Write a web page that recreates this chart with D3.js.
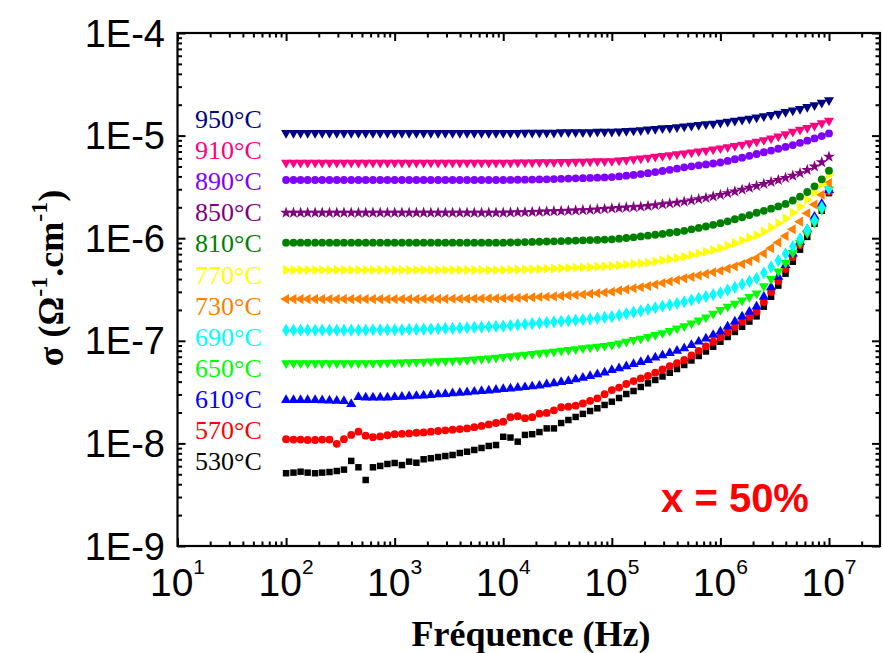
<!DOCTYPE html>
<html>
<head>
<meta charset="utf-8">
<script src="https://cdn.jsdelivr.net/npm/d3@7"></script>
<style>
  body { margin: 0; background: #fff; }
  text { fill: #000; }
</style>
</head>
<body>
<div id="chart"></div>
<script>
// Frequencies (Hz), 15 points per decade
const freq = [
  100, 117, 136, 158, 185, 215, 251, 293, 341, 398, 464, 541, 631, 736, 858,
  1000, 1166, 1359, 1585, 1848, 2154, 2512, 2929, 3415, 3981, 4642, 5412, 6310, 7356, 8577,
  1e4, 1.166e4, 1.359e4, 1.585e4, 1.848e4, 2.154e4, 2.512e4, 2.929e4, 3.415e4, 3.981e4, 4.642e4, 5.412e4, 6.310e4, 7.356e4, 8.577e4,
  1e5, 1.166e5, 1.359e5, 1.585e5, 1.848e5, 2.154e5, 2.512e5, 2.929e5, 3.415e5, 3.981e5, 4.642e5, 5.412e5, 6.310e5, 7.356e5, 8.577e5,
  1e6, 1.166e6, 1.359e6, 1.585e6, 1.848e6, 2.154e6, 2.512e6, 2.929e6, 3.415e6, 3.981e6, 4.642e6, 5.412e6, 6.310e6, 7.356e6, 8.577e6,
  1e7
];

// Conductivity sigma (ohm^-1.cm^-1), one array per temperature
const s530 = [
  5.12e-9, 5.19e-9, 5.30e-9, 5.19e-9, 5.12e-9, 5.19e-9, 5.26e-9, 5.38e-9, 5.55e-9, 6.75e-9, 5.85e-9, 4.40e-9, 5.85e-9, 6.03e-9, 6.30e-9, 6.44e-9,
  6.15e-9, 6.64e-9, 6.48e-9, 7.00e-9, 7.16e-9, 7.36e-9, 7.53e-9, 7.71e-9, 8.06e-9, 8.30e-9, 8.63e-9, 9.02e-9, 9.44e-9, 9.64e-9, 11.6e-9,
  11.4e-9, 10.4e-9, 12.1e-9, 12.3e-9, 12.9e-9, 14.0e-9, 14.0e-9, 15.8e-9, 16.9e-9, 18.1e-9, 19.4e-9, 20.7e-9, 22.0e-9, 23.7e-9, 25.5e-9,
  27.7e-9, 30.3e-9, 32.4e-9, 35.5e-9, 38.5e-9, 41.5e-9, 44.9e-9, 48.8e-9, 53.1e-9, 58.1e-9, 64.3e-9, 71.1e-9, 78.7e-9, 87.5e-9, 98.0e-9,
  109e-9, 122e-9, 137e-9, 154e-9, 173e-9, 215e-9, 269e-9, 345e-9, 451e-9, 590e-9, 773e-9, 1030e-9, 1380e-9, 1850e-9, 2750e-9
];
const s570 = [
  1.10e-8, 1.09e-8, 1.09e-8, 1.08e-8, 1.08e-8, 1.09e-8, 1.09e-8, 0.99e-8, 1.10e-8, 1.21e-8, 1.30e-8, 1.19e-8, 1.15e-8, 1.17e-8, 1.20e-8, 1.23e-8,
  1.24e-8, 1.25e-8, 1.27e-8, 1.28e-8, 1.30e-8, 1.32e-8, 1.34e-8, 1.36e-8, 1.38e-8, 1.40e-8, 1.44e-8, 1.48e-8, 1.53e-8, 1.58e-8, 1.63e-8,
  1.80e-8, 1.84e-8, 1.76e-8, 1.80e-8, 1.95e-8, 1.98e-8, 2.10e-8, 2.25e-8, 2.28e-8, 2.33e-8, 2.45e-8, 2.60e-8, 2.75e-8, 3.02e-8, 3.31e-8,
  3.50e-8, 3.79e-8, 4.05e-8, 4.30e-8, 4.54e-8, 4.89e-8, 5.26e-8, 5.66e-8, 6.06e-8, 6.50e-8, 7.20e-8, 7.98e-8, 8.84e-8, 9.79e-8, 10.85e-8,
  12.1e-8, 13.6e-8, 15.3e-8, 17.1e-8, 19.2e-8, 23.9e-8, 29.9e-8, 38.3e-8, 50.1e-8, 65.6e-8, 85.9e-8, 115e-8, 154e-8, 206e-8, 284e-8
];
const s610 = [
  2.65e-8, 2.65e-8, 2.64e-8, 2.64e-8, 2.64e-8, 2.63e-8, 2.62e-8, 2.60e-8, 2.58e-8, 2.42e-8, 2.83e-8, 2.80e-8, 2.79e-8, 2.79e-8, 2.80e-8, 2.82e-8,
  2.84e-8, 2.87e-8, 2.90e-8, 2.93e-8, 2.96e-8, 3.00e-8, 3.03e-8, 3.07e-8, 3.11e-8, 3.15e-8, 3.19e-8, 3.23e-8, 3.28e-8, 3.33e-8, 3.38e-8,
  3.43e-8, 3.48e-8, 3.53e-8, 3.59e-8, 3.65e-8, 3.76e-8, 3.86e-8, 3.95e-8, 4.05e-8, 4.20e-8, 4.36e-8, 4.52e-8, 4.70e-8, 4.90e-8, 5.19e-8,
  5.40e-8, 5.65e-8, 5.92e-8, 6.20e-8, 6.50e-8, 6.85e-8, 7.20e-8, 7.60e-8, 8.00e-8, 8.45e-8, 9.10e-8, 9.80e-8, 10.5e-8, 11.4e-8, 12.3e-8,
  13.75e-8, 15.4e-8, 17.2e-8, 19.2e-8, 21.5e-8, 26.8e-8, 33.2e-8, 42.1e-8, 54.6e-8, 70.8e-8, 91.9e-8, 122e-8, 162e-8, 216e-8, 295e-8
];
const s650 = [
  6.04e-8, 6.04e-8, 6.04e-8, 6.04e-8, 6.04e-8, 6.04e-8, 6.04e-8, 6.04e-8, 6.04e-8, 6.04e-8, 6.04e-8, 6.05e-8, 6.07e-8, 6.09e-8, 6.11e-8, 6.13e-8,
  6.16e-8, 6.19e-8, 6.22e-8, 6.25e-8, 6.28e-8, 6.32e-8, 6.36e-8, 6.40e-8, 6.45e-8, 6.50e-8, 6.58e-8, 6.66e-8, 6.75e-8, 6.85e-8, 6.95e-8,
  7.07e-8, 7.19e-8, 7.31e-8, 7.44e-8, 7.57e-8, 7.71e-8, 7.85e-8, 8.00e-8, 8.15e-8, 8.30e-8, 8.46e-8, 8.62e-8, 8.78e-8, 8.94e-8, 9.10e-8,
  9.45e-8, 9.80e-8, 10.2e-8, 10.5e-8, 10.9e-8, 11.4e-8, 11.9e-8, 12.5e-8, 13.2e-8, 13.9e-8, 14.8e-8, 15.8e-8, 16.9e-8, 18.4e-8, 20.0e-8,
  21.5e-8, 23.0e-8, 24.8e-8, 26.8e-8, 29.0e-8, 34.0e-8, 40.0e-8, 47.5e-8, 57.5e-8, 72.0e-8, 90.0e-8, 112e-8, 142e-8, 190e-8, 300e-8
];
const s690 = [
  1.27e-7, 1.27e-7, 1.27e-7, 1.27e-7, 1.27e-7, 1.27e-7, 1.27e-7, 1.27e-7, 1.27e-7, 1.27e-7, 1.27e-7, 1.27e-7, 1.28e-7, 1.28e-7, 1.28e-7, 1.28e-7,
  1.28e-7, 1.29e-7, 1.29e-7, 1.30e-7, 1.30e-7, 1.31e-7, 1.32e-7, 1.32e-7, 1.33e-7, 1.34e-7, 1.35e-7, 1.36e-7, 1.37e-7, 1.38e-7, 1.39e-7,
  1.41e-7, 1.43e-7, 1.45e-7, 1.47e-7, 1.49e-7, 1.51e-7, 1.53e-7, 1.55e-7, 1.57e-7, 1.59e-7, 1.61e-7, 1.63e-7, 1.66e-7, 1.69e-7, 1.72e-7,
  1.78e-7, 1.84e-7, 1.90e-7, 1.96e-7, 2.03e-7, 2.10e-7, 2.17e-7, 2.24e-7, 2.32e-7, 2.40e-7, 2.50e-7, 2.60e-7, 2.70e-7, 2.82e-7, 2.94e-7,
  3.12e-7, 3.32e-7, 3.55e-7, 3.80e-7, 4.06e-7, 4.60e-7, 5.25e-7, 6.05e-7, 7.05e-7, 8.30e-7, 9.90e-7, 12.0e-7, 15.0e-7, 20.0e-7, 30.8e-7
];
const s730 = [
  2.55e-7, 2.55e-7, 2.55e-7, 2.55e-7, 2.55e-7, 2.55e-7, 2.55e-7, 2.55e-7, 2.55e-7, 2.55e-7, 2.55e-7, 2.55e-7, 2.55e-7, 2.55e-7, 2.55e-7, 2.55e-7,
  2.55e-7, 2.55e-7, 2.55e-7, 2.56e-7, 2.56e-7, 2.56e-7, 2.56e-7, 2.57e-7, 2.57e-7, 2.57e-7, 2.58e-7, 2.58e-7, 2.59e-7, 2.59e-7, 2.60e-7,
  2.61e-7, 2.62e-7, 2.63e-7, 2.65e-7, 2.67e-7, 2.69e-7, 2.71e-7, 2.74e-7, 2.77e-7, 2.80e-7, 2.83e-7, 2.87e-7, 2.91e-7, 2.96e-7, 3.01e-7,
  3.09e-7, 3.17e-7, 3.25e-7, 3.33e-7, 3.42e-7, 3.54e-7, 3.66e-7, 3.78e-7, 3.92e-7, 4.06e-7, 4.20e-7, 4.34e-7, 4.49e-7, 4.65e-7, 4.82e-7,
  5.05e-7, 5.30e-7, 5.60e-7, 5.95e-7, 6.40e-7, 7.10e-7, 8.00e-7, 9.10e-7, 10.5e-7, 12.2e-7, 14.5e-7, 17.5e-7, 21.3e-7, 26.5e-7, 34.5e-7
];
const s770 = [
  4.90e-7, 4.90e-7, 4.90e-7, 4.90e-7, 4.90e-7, 4.90e-7, 4.90e-7, 4.90e-7, 4.90e-7, 4.90e-7, 4.90e-7, 4.90e-7, 4.90e-7, 4.90e-7, 4.90e-7, 4.90e-7,
  4.90e-7, 4.90e-7, 4.90e-7, 4.90e-7, 4.90e-7, 4.90e-7, 4.90e-7, 4.90e-7, 4.90e-7, 4.90e-7, 4.90e-7, 4.90e-7, 4.90e-7, 4.90e-7, 4.90e-7,
  4.92e-7, 4.94e-7, 4.96e-7, 4.98e-7, 5.00e-7, 5.03e-7, 5.06e-7, 5.09e-7, 5.12e-7, 5.15e-7, 5.18e-7, 5.22e-7, 5.26e-7, 5.31e-7, 5.36e-7,
  5.43e-7, 5.51e-7, 5.59e-7, 5.68e-7, 5.77e-7, 5.92e-7, 6.08e-7, 6.24e-7, 6.42e-7, 6.60e-7, 6.85e-7, 7.10e-7, 7.38e-7, 7.67e-7, 7.98e-7,
  8.45e-7, 8.95e-7, 9.50e-7, 10.1e-7, 10.7e-7, 11.6e-7, 12.7e-7, 14.0e-7, 15.6e-7, 17.7e-7, 20.3e-7, 23.7e-7, 28.0e-7, 33.8e-7, 41.3e-7
];
const s810 = [
  9.04e-7, 9.04e-7, 9.04e-7, 9.04e-7, 9.04e-7, 9.04e-7, 9.04e-7, 9.04e-7, 9.04e-7, 9.04e-7, 9.04e-7, 9.04e-7, 9.04e-7, 9.04e-7, 9.04e-7, 9.04e-7,
  9.04e-7, 9.04e-7, 9.04e-7, 9.04e-7, 9.04e-7, 9.04e-7, 9.04e-7, 9.04e-7, 9.04e-7, 9.04e-7, 9.04e-7, 9.04e-7, 9.04e-7, 9.04e-7, 9.04e-7,
  9.08e-7, 9.12e-7, 9.16e-7, 9.20e-7, 9.24e-7, 9.28e-7, 9.33e-7, 9.38e-7, 9.43e-7, 9.48e-7, 9.53e-7, 9.58e-7, 9.63e-7, 9.69e-7, 9.75e-7,
  9.90e-7, 10.05e-7, 10.2e-7, 10.4e-7, 10.6e-7, 10.8e-7, 11.0e-7, 11.3e-7, 11.5e-7, 11.8e-7, 12.2e-7, 12.6e-7, 13.0e-7, 13.5e-7, 14.0e-7,
  14.6e-7, 15.3e-7, 16.0e-7, 16.8e-7, 17.7e-7, 18.5e-7, 19.4e-7, 20.4e-7, 21.6e-7, 23.3e-7, 25.4e-7, 28.2e-7, 32.0e-7, 37.5e-7, 45.5e-7
];
const s850 = [
  1.77e-6, 1.77e-6, 1.77e-6, 1.77e-6, 1.77e-6, 1.77e-6, 1.77e-6, 1.77e-6, 1.77e-6, 1.77e-6, 1.77e-6, 1.77e-6, 1.77e-6, 1.77e-6, 1.77e-6, 1.77e-6,
  1.77e-6, 1.77e-6, 1.77e-6, 1.77e-6, 1.77e-6, 1.77e-6, 1.77e-6, 1.77e-6, 1.77e-6, 1.77e-6, 1.77e-6, 1.77e-6, 1.77e-6, 1.77e-6, 1.77e-6,
  1.78e-6, 1.79e-6, 1.79e-6, 1.80e-6, 1.81e-6, 1.82e-6, 1.83e-6, 1.84e-6, 1.85e-6, 1.86e-6, 1.88e-6, 1.89e-6, 1.91e-6, 1.93e-6, 1.95e-6,
  1.97e-6, 1.99e-6, 2.01e-6, 2.03e-6, 2.06e-6, 2.10e-6, 2.14e-6, 2.18e-6, 2.22e-6, 2.27e-6, 2.34e-6, 2.40e-6, 2.47e-6, 2.55e-6, 2.64e-6,
  2.75e-6, 2.85e-6, 2.97e-6, 3.10e-6, 3.23e-6, 3.38e-6, 3.53e-6, 3.69e-6, 3.87e-6, 4.06e-6, 4.30e-6, 4.62e-6, 5.00e-6, 5.50e-6, 6.22e-6
];
const s890 = [
  3.69e-6, 3.69e-6, 3.69e-6, 3.69e-6, 3.69e-6, 3.69e-6, 3.69e-6, 3.69e-6, 3.69e-6, 3.69e-6, 3.69e-6, 3.69e-6, 3.69e-6, 3.69e-6, 3.69e-6, 3.69e-6,
  3.69e-6, 3.69e-6, 3.69e-6, 3.69e-6, 3.69e-6, 3.69e-6, 3.69e-6, 3.69e-6, 3.69e-6, 3.69e-6, 3.69e-6, 3.69e-6, 3.69e-6, 3.69e-6, 3.69e-6,
  3.70e-6, 3.71e-6, 3.72e-6, 3.73e-6, 3.74e-6, 3.75e-6, 3.77e-6, 3.79e-6, 3.81e-6, 3.83e-6, 3.85e-6, 3.87e-6, 3.89e-6, 3.91e-6, 3.94e-6,
  4.00e-6, 4.07e-6, 4.14e-6, 4.22e-6, 4.30e-6, 4.41e-6, 4.52e-6, 4.64e-6, 4.77e-6, 4.91e-6, 5.02e-6, 5.13e-6, 5.24e-6, 5.35e-6, 5.47e-6,
  5.67e-6, 5.88e-6, 6.10e-6, 6.35e-6, 6.62e-6, 6.88e-6, 7.15e-6, 7.45e-6, 7.76e-6, 8.09e-6, 8.50e-6, 8.92e-6, 9.38e-6, 9.90e-6, 10.5e-6
];
const s910 = [
  5.45e-6, 5.45e-6, 5.45e-6, 5.45e-6, 5.45e-6, 5.45e-6, 5.45e-6, 5.45e-6, 5.45e-6, 5.45e-6, 5.45e-6, 5.45e-6, 5.45e-6, 5.45e-6, 5.45e-6, 5.45e-6,
  5.45e-6, 5.45e-6, 5.45e-6, 5.45e-6, 5.45e-6, 5.45e-6, 5.45e-6, 5.45e-6, 5.45e-6, 5.45e-6, 5.45e-6, 5.45e-6, 5.45e-6, 5.45e-6, 5.45e-6,
  5.46e-6, 5.47e-6, 5.48e-6, 5.49e-6, 5.50e-6, 5.51e-6, 5.52e-6, 5.53e-6, 5.54e-6, 5.56e-6, 5.58e-6, 5.60e-6, 5.62e-6, 5.63e-6, 5.65e-6,
  5.72e-6, 5.80e-6, 5.88e-6, 5.98e-6, 6.10e-6, 6.22e-6, 6.34e-6, 6.46e-6, 6.58e-6, 6.71e-6, 6.86e-6, 7.00e-6, 7.15e-6, 7.33e-6, 7.52e-6,
  7.72e-6, 7.94e-6, 8.18e-6, 8.44e-6, 8.73e-6, 9.05e-6, 9.40e-6, 9.80e-6, 10.3e-6, 10.9e-6, 11.4e-6, 11.9e-6, 12.5e-6, 13.2e-6, 14.0e-6
];
const s950 = [
  1.06e-5, 1.06e-5, 1.06e-5, 1.06e-5, 1.06e-5, 1.06e-5, 1.06e-5, 1.06e-5, 1.06e-5, 1.06e-5, 1.06e-5, 1.06e-5, 1.06e-5, 1.06e-5, 1.06e-5, 1.06e-5,
  1.06e-5, 1.06e-5, 1.06e-5, 1.06e-5, 1.06e-5, 1.06e-5, 1.06e-5, 1.06e-5, 1.06e-5, 1.06e-5, 1.06e-5, 1.06e-5, 1.06e-5, 1.06e-5, 1.06e-5,
  1.06e-5, 1.06e-5, 1.07e-5, 1.07e-5, 1.07e-5, 1.07e-5, 1.07e-5, 1.08e-5, 1.08e-5, 1.08e-5, 1.08e-5, 1.08e-5, 1.09e-5, 1.09e-5, 1.09e-5,
  1.10e-5, 1.11e-5, 1.12e-5, 1.13e-5, 1.15e-5, 1.16e-5, 1.18e-5, 1.19e-5, 1.21e-5, 1.23e-5, 1.25e-5, 1.27e-5, 1.29e-5, 1.31e-5, 1.34e-5,
  1.37e-5, 1.40e-5, 1.43e-5, 1.46e-5, 1.50e-5, 1.55e-5, 1.59e-5, 1.64e-5, 1.70e-5, 1.76e-5, 1.82e-5, 1.90e-5, 1.98e-5, 2.09e-5, 2.22e-5
];

const temps = ['530°C', '570°C', '610°C', '650°C', '690°C', '730°C', '770°C', '810°C', '850°C', '890°C', '910°C', '950°C'];
const sigmaByTemp = [s530, s570, s610, s650, s690, s730, s770, s810, s850, s890, s910, s950];

const xTickValues = [1e1, 1e2, 1e3, 1e4, 1e5, 1e6, 1e7];
const xTickExponents = ['1', '2', '3', '4', '5', '6', '7'];
const yTickValues = [1e-9, 1e-8, 1e-7, 1e-6, 1e-5, 1e-4];
const yTickLabels = ['1E-9', '1E-8', '1E-7', '1E-6', '1E-5', '1E-4'];

// Styles
const colors = ['#000000', '#ff0000', '#0000ff', '#00ff00', '#00ffff', '#ff8000',
                '#ffff00', '#008000', '#800080', '#8000ff', '#ff0080', '#000080'];
const shapes = ['square', 'circle', 'up', 'down', 'diamond', 'left',
                'right', 'circle', 'star', 'circle', 'down', 'down'];

const width = 883, height = 653;
const plot = { left: 177.5, right: 880, top: 33, bottom: 546 };

const svg = d3.select('#chart')
    .append('svg')
    .attr('width', width)
    .attr('height', height);

const x = d3.scaleLog().domain([10, 2.95e7]).range([plot.left, plot.right]);
const y = d3.scaleLog().domain([1e-9, 1e-4]).range([plot.bottom, plot.top]);

// Ticks on all four sides, pointing inwards
const xMajor = xTickValues;
const xMinor = x.ticks().filter(v => !xMajor.some(m => Math.abs(m - v) / m < 1e-9));
const yMajor = yTickValues;
const yMinor = y.ticks().filter(v => !yMajor.some(m => Math.abs(m - v) / m < 1e-9));

function styleAxis(sel) {
    sel.select('.domain').remove();
    sel.selectAll('.tick line').attr('stroke', '#000').attr('stroke-width', 2);
    sel.selectAll('.tick text').remove();
}

const axes = svg.append('g');
[[xMajor, 8], [xMinor, 4.5]].forEach(([vals, len]) => {
    axes.append('g').attr('transform', `translate(0,${plot.bottom})`)
        .call(d3.axisBottom(x).tickValues(vals).tickSize(-len)).call(styleAxis);
    axes.append('g').attr('transform', `translate(0,${plot.top})`)
        .call(d3.axisTop(x).tickValues(vals).tickSize(-len)).call(styleAxis);
});
[[yMajor, 8], [yMinor, 4.5]].forEach(([vals, len]) => {
    axes.append('g').attr('transform', `translate(${plot.left},0)`)
        .call(d3.axisLeft(y).tickValues(vals).tickSize(-len)).call(styleAxis);
    axes.append('g').attr('transform', `translate(${plot.right},0)`)
        .call(d3.axisRight(y).tickValues(vals).tickSize(-len)).call(styleAxis);
});

// Frame
svg.append('rect')
    .attr('x', plot.left)
    .attr('y', plot.top)
    .attr('width', plot.right - plot.left)
    .attr('height', plot.bottom - plot.top)
    .attr('fill', 'none')
    .attr('stroke', '#000')
    .attr('stroke-width', 2.2);

// Tick labels
svg.append('g').selectAll('text')
    .data(yTickValues)
    .join('text')
    .attr('x', 165)
    .attr('y', d => y(d))
    .attr('dy', '0.36em')
    .attr('text-anchor', 'end')
    .attr('font-family', 'Liberation Sans, Arial, sans-serif')
    .attr('font-size', '38px')
    .text((d, i) => yTickLabels[i]);

const xLab = svg.append('g').selectAll('text')
    .data(xTickValues)
    .join('text')
    .attr('x', d => x(d))
    .attr('y', 596)
    .attr('text-anchor', 'middle')
    .attr('font-family', 'Liberation Sans, Arial, sans-serif')
    .attr('font-size', '39px');
xLab.append('tspan').text('10');
xLab.append('tspan')
    .attr('dy', -22)
    .attr('font-size', '21px')
    .text((d, i) => xTickExponents[i]);

// Axis titles
svg.append('text')
    .attr('x', 531)
    .attr('y', 646)
    .attr('text-anchor', 'middle')
    .attr('font-family', 'Liberation Serif, Times New Roman, serif')
    .attr('font-weight', 'bold')
    .attr('font-size', '36px')
    .text('Fréquence (Hz)');

const yTitle = svg.append('text')
    .attr('transform', 'translate(63,278) rotate(-90)')
    .attr('text-anchor', 'middle')
    .attr('font-family', 'Liberation Serif, Times New Roman, serif')
    .attr('font-weight', 'bold')
    .attr('font-size', '36px');
yTitle.append('tspan').text('σ (Ω');
yTitle.append('tspan').attr('dy', -16).attr('font-size', '24px').text('-1');
yTitle.append('tspan').attr('dy', 16).text('.cm');
yTitle.append('tspan').attr('dy', -16).attr('font-size', '24px').text('-1');
yTitle.append('tspan').attr('dy', 16).text(')');

// Symbols
const symbolType = {
    square: d3.symbolSquare, circle: d3.symbolCircle, star: d3.symbolStar,
    diamond: d3.symbolDiamond, up: d3.symbolTriangle, down: d3.symbolTriangle,
    left: d3.symbolTriangle, right: d3.symbolTriangle
};
const symbolRotate = { up: 0, down: 180, left: -90, right: 90 };
const symbolSize = { square: 42, circle: 48, star: 44, diamond: 50, up: 44, down: 44, left: 44, right: 44 };

const marks = svg.append('g');
sigmaByTemp.forEach((vals, si) => {
    const shape = shapes[si];
    const path = d3.symbol().type(symbolType[shape]).size(symbolSize[shape])();
    const rot = symbolRotate[shape] || 0;
    marks.append('g')
        .selectAll('path')
        .data(vals.map((v, i) => ({ f: freq[i], s: v })))
        .join('path')
        .attr('d', path)
        .attr('transform', d => `translate(${x(d.f)},${y(d.s)}) rotate(${rot})`)
        .attr('fill', colors[si]);
});

// Temperature labels (top = highest temperature)
const labelTop = 128, labelStep = 31.1;
svg.append('g').selectAll('text')
    .data(temps.slice().reverse())
    .join('text')
    .attr('x', 195)
    .attr('y', (d, i) => labelTop + i * labelStep)
    .attr('font-family', 'Liberation Serif, Times New Roman, serif')
    .attr('font-size', '26px')
    .style('fill', (d, i) => colors[colors.length - 1 - i])
    .text(d => d);

// Composition annotation
svg.append('text')
    .attr('x', 735)
    .attr('y', 512)
    .attr('text-anchor', 'middle')
    .attr('font-family', 'Liberation Sans, Arial, sans-serif')
    .attr('font-weight', 'bold')
    .attr('font-size', '40px')
    .style('fill', '#ff0000')
    .text('x = 50%');
</script>
</body>
</html>
